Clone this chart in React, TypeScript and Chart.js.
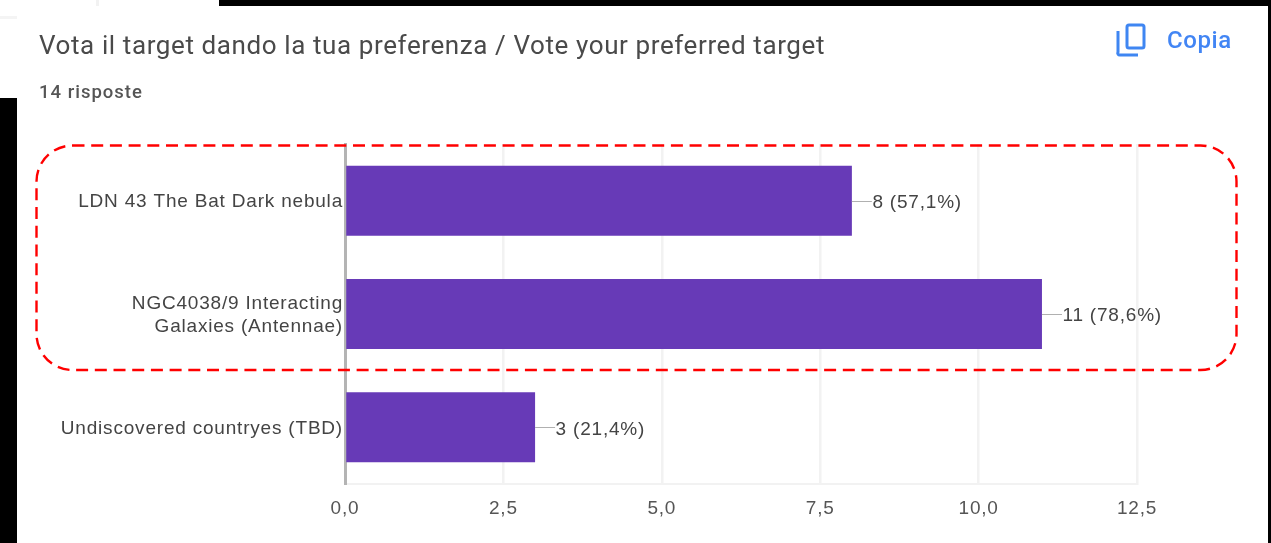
import React, { useEffect, useRef } from "react";
import { Chart, registerables } from "chart.js";

Chart.register(...registerables);

const categories: (string | string[])[] = [
  "LDN 43 The Bat Dark nebula",
  ["NGC4038/9 Interacting", "Galaxies (Antennae)"],
  "Undiscovered countryes (TBD)",
];
const votes = [8, 11, 3];
const percentLabels = ["57,1%", "78,6%", "21,4%"];
const axisMax = 12.5;
const axisStep = 2.5;

const FONT = "'Liberation Sans', Arial, sans-serif";
const TEXT = "#444444";
const SPACING = "0.8px";
const LABEL_SIZE = 19;

const valueLabels = {
  id: "valueLabels",
  afterDatasetsDraw(chart: any) {
    const { ctx } = chart;
    const meta = chart.getDatasetMeta(0);
    ctx.save();
    ctx.font = `${LABEL_SIZE}px ${FONT}`;
    ctx.textBaseline = "middle";
    ctx.textAlign = "left";
    (ctx as any).letterSpacing = SPACING;
    meta.data.forEach((bar: any, i: number) => {
      ctx.strokeStyle = "#b0b0b0";
      ctx.lineWidth = 1;
      ctx.beginPath();
      ctx.moveTo(bar.x, Math.round(bar.y) + 0.5);
      ctx.lineTo(bar.x + 20, Math.round(bar.y) + 0.5);
      ctx.stroke();
      ctx.fillStyle = TEXT;
      ctx.fillText(`${votes[i]} (${percentLabels[i]})`, bar.x + 20.5, bar.y + 2);
    });
    ctx.restore();
  },
};

const letterSpacing = {
  id: "letterSpacing",
  beforeInit(chart: any) {
    (chart.ctx as any).letterSpacing = SPACING;
  },
  beforeUpdate(chart: any) {
    (chart.ctx as any).letterSpacing = SPACING;
  },
};

export default function App() {
  const ref = useRef<HTMLCanvasElement>(null);
  useEffect(() => {
    document.body.style.margin = "0";
    document.body.style.background = "#000";
    const chart = new Chart(ref.current!, {
      type: "bar",
      plugins: [letterSpacing, valueLabels],
      data: {
        labels: categories as any,
        datasets: [
          {
            data: votes,
            backgroundColor: "#673ab7",
            borderWidth: 0,
            categoryPercentage: 0.617,
            barPercentage: 1,
          },
        ],
      },
      options: {
        indexAxis: "y",
        animation: false,
        responsive: false,
        layout: { padding: { top: 144, right: 134, bottom: 0, left: 0 } },
        plugins: { legend: { display: false }, tooltip: { enabled: false }, title: { display: false } },
        scales: {
          x: {
            min: 0,
            max: axisMax,
            afterFit: (s: any) => {
              s.height = 59;
            },
            ticks: {
              stepSize: axisStep,
              color: "#555555",
              padding: 13,
              maxRotation: 0,
              font: { family: FONT, size: LABEL_SIZE },
              callback: (v: any) => Number(v).toFixed(1).replace(".", ","),
            },
            grid: { color: "#f2f2f2", lineWidth: 2.5, drawTicks: false },
            border: { display: true, color: "#f2f2f2", width: 2 },
          },
          y: {
            afterFit: (s: any) => {
              s.width = 345;
            },
            ticks: {
              color: TEXT,
              padding: 2,
              labelOffset: 1.5,
              font: { family: FONT, size: LABEL_SIZE, lineHeight: 1.22 },
            },
            grid: { display: false, drawTicks: false },
            border: { display: true, color: "#b4b4b4", width: 3 },
          },
        },
      },
    });
    return () => chart.destroy();
  }, []);

  const abs = (l: number, t: number, w: number, h: number, bg: string): React.CSSProperties => ({
    position: "absolute",
    left: l,
    top: t,
    width: w,
    height: h,
    background: bg,
  });
  const text = (
    l: number,
    t: number,
    size: number,
    color: string,
    weight: number,
    spacing: number
  ): React.CSSProperties => ({
    position: "absolute",
    left: l,
    top: t,
    fontFamily: "Roboto, sans-serif",
    fontSize: size,
    lineHeight: 1,
    color,
    fontWeight: weight,
    letterSpacing: spacing,
    whiteSpace: "nowrap",
  });

  return (
    <div style={{ position: "relative", width: 1271, height: 543, overflow: "hidden", background: "#fff" }}>
      <div style={{ position: "absolute", inset: 0, filter: "blur(0.45px)" }}>
        <canvas ref={ref} width={1271} height={543} style={{ position: "absolute", left: 0, top: 0 }} />
        <div style={text(39, 32, 26, "#4a4a4a", 400, 0.6)}>
          Vota il target dando la tua preferenza / Vote your preferred target
        </div>
        <div style={text(39, 83, 18.5, "#555555", 500, 1)}>14 risposte</div>
        <div style={text(1167, 28, 24, "#4285f4", 500, 0.6)}>Copia</div>
        <svg width={1271} height={543} style={{ position: "absolute", left: 0, top: 0 }}>
          <g fill="none" stroke="#3f86f2" strokeWidth="3">
            <rect x="1127" y="25" width="17" height="23" rx="2" />
            <path d="M1118 31 V52 a2 2 0 0 0 2 3 H1138" />
          </g>
          <rect
            x="36.5"
            y="145.5"
            width="1200"
            height="224.5"
            rx="36"
            fill="none"
            stroke="#ff0000"
            strokeWidth="2.4"
            strokeDasharray="12 6.7"
          />
        </svg>
      </div>
      <div style={abs(219, 0, 1052, 6, "#000")} />
      <div style={abs(0, 98, 17, 445, "#000")} />
      <div style={abs(1268, 0, 3, 543, "#000")} />
      <div style={abs(96, 0, 3, 6, "#f2f2f2")} />
      <div style={abs(0, 16, 17, 3, "#f4f4f4")} />
    </div>
  );
}
